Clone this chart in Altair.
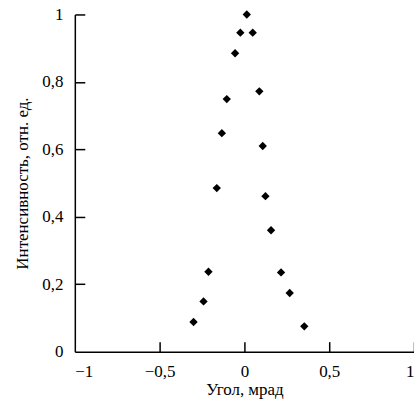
import altair as alt
import pandas as pd

angle = [0.014, -0.024, 0.049, -0.055, 0.088, -0.104, -0.133, 0.108, -0.163,
         0.124, 0.157, -0.212, 0.216, -0.241, 0.267, -0.300, 0.353]
intensity = [1.0, 0.946, 0.946, 0.885, 0.772, 0.749, 0.648, 0.610, 0.485,
             0.461, 0.360, 0.237, 0.235, 0.149, 0.174, 0.088, 0.075]
x_ticks = [-1, -0.5, 0, 0.5, 1]
y_ticks = [0, 0.2, 0.4, 0.6, 0.8, 1]

df = pd.DataFrame({"x": angle, "y": intensity})
FONT = "Liberation Serif"
label_expr = "replace(format(datum.value, '.1~f'), '.', ',')"

xscale = alt.Scale(domain=[-1, 1], nice=False, zero=False)
yscale = alt.Scale(domain=[0, 1], nice=False, zero=False)

axis_style = dict(grid=False, domainColor="#000000", domainWidth=1.5,
                  labelFont=FONT, labelFontSize=17, labelColor="#000000",
                  titleFont=FONT, titleFontSize=17, titleFontWeight="normal",
                  titleColor="#000000", tickSize=0, labelPadding=12)

points = alt.Chart(df).mark_point(
    shape="diamond", filled=True, color="#000000", size=70, opacity=1
).encode(
    x=alt.X("x:Q", scale=xscale, title="Угол, мрад",
            axis=alt.Axis(values=x_ticks, labelExpr=label_expr,
                          titlePadding=2, **axis_style)),
    y=alt.Y("y:Q", scale=yscale, title="Интенсивность, отн. ед.",
            axis=alt.Axis(values=y_ticks, labelExpr=label_expr,
                          titlePadding=10, **axis_style)),
)

# invisible layer whose axes are moved onto the opposite edges to draw inward ticks
tick_style = dict(grid=False, domain=False, labels=False, title=None,
                  ticks=True, tickSize=10, tickWidth=1.5, tickColor="#000000")
inward = alt.Chart(df).mark_point(opacity=0).encode(
    x=alt.X("x:Q", scale=xscale,
            axis=alt.Axis(orient="top", offset=-338, values=x_ticks[1:], **tick_style)),
    y=alt.Y("y:Q", scale=yscale,
            axis=alt.Axis(orient="right", offset=-340, values=y_ticks[1:], **tick_style)),
)

chart = alt.layer(points, inward).resolve_axis(
    x="independent", y="independent"
).properties(
    width=340, height=338,
    autosize=alt.AutoSizeParams(type="none"),
    padding={"left": 75, "top": 14, "right": 0, "bottom": 52},
).configure(font=FONT).configure_view(stroke=None)

chart.save("out.html", embed_options={"renderer": "svg", "actions": False})
